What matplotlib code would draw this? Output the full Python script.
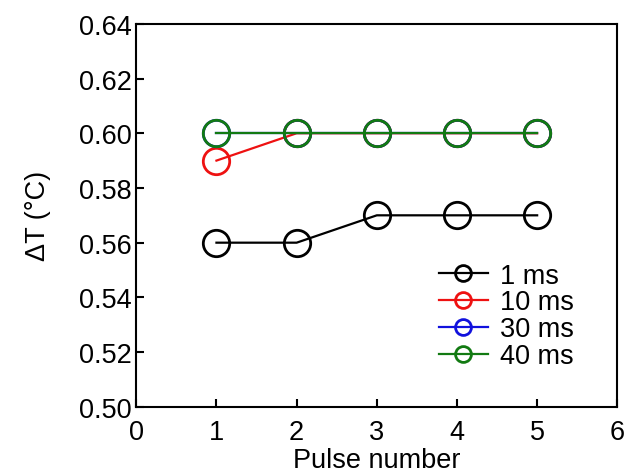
import matplotlib.pyplot as plt

plt.rcParams['font.family'] = ['Liberation Sans', 'DejaVu Sans']

pulse = [1, 2, 3, 4, 5]
dt_1ms = [0.56, 0.56, 0.57, 0.57, 0.57]
dt_10ms = [0.59, 0.60, 0.60, 0.60, 0.60]
dt_30ms = [0.60, 0.60, 0.60, 0.60, 0.60]
dt_40ms = [0.60, 0.60, 0.60, 0.60, 0.60]
labels = ["1 ms", "10 ms", "30 ms", "40 ms"]
colors = ["black", "#ee1111", "#1111dd", "#127a12"]

fig = plt.figure(figsize=(6.28, 4.77), dpi=100)
ax = fig.add_axes([0.217, 0.145, 0.766, 0.803])

for y, lab, c in zip([dt_1ms, dt_10ms, dt_30ms, dt_40ms], labels, colors):
    ax.plot(pulse, y, color=c, lw=1.6, marker="o", markersize=19,
            markerfacecolor="none", markeredgewidth=2.0, label=lab)

ax.set_xlim(0, 6)
ax.set_ylim(0.50, 0.64)
ax.set_xticks(range(0, 7))
ax.set_yticks([0.50, 0.52, 0.54, 0.56, 0.58, 0.60, 0.62, 0.64])
ax.set_yticklabels(["%.2f" % v for v in ax.get_yticks()])
ax.tick_params(direction="in", length=6, width=1.5, labelsize=19.5)
ax.tick_params(axis="x", pad=9)
ax.tick_params(axis="y", pad=3)
for s in ax.spines.values():
    s.set_linewidth(1.5)
ax.set_xlabel("Pulse number", fontsize=19.5, labelpad=1)
ax.set_ylabel("ΔT (°C)", fontsize=19.5, labelpad=20)

ax.legend(loc="lower right", frameon=False, fontsize=19.5, handlelength=1.8,
          labelspacing=0.03, handletextpad=0.45, bbox_to_anchor=(0.96, 0.035),
          markerscale=0.6)

fig.savefig("out.png", dpi=100)
